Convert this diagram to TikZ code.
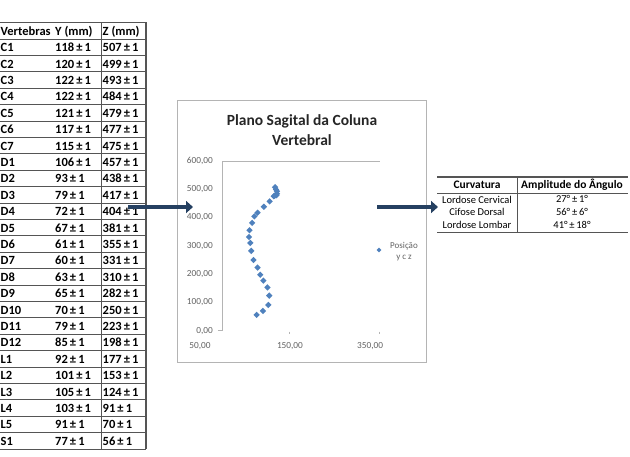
\documentclass[tikz,border=0pt]{standalone}
\usepackage{fontspec}
\setmainfont{Carlito}
\usetikzlibrary{arrows.meta}
\usetikzlibrary{positioning}
\usetikzlibrary{shapes.geometric}

\definecolor{framegray}{RGB}{180,180,180}
\definecolor{ticktext}{RGB}{100,100,100}
\definecolor{seriesblue}{RGB}{79,129,189}
\definecolor{arrowblue}{RGB}{37,64,97}
\definecolor{rulegray}{RGB}{85,85,85}

\tikzset{
  cell/.style={anchor=west, inner sep=0pt, text height=9pt, text depth=2pt,
    font=\fontsize{12.5}{13}\selectfont\bfseries},
  rule/.style={draw=rulegray, line width=1pt},
  chartbox/.style={draw=framegray, line width=0.9pt, fill=white, inner sep=0pt},
  ticklab/.style={inner sep=0pt, text=ticktext, font=\fontsize{9.3}{10}\selectfont},
  marker/.style={diamond, fill=seriesblue, minimum size=6.5pt, inner sep=0pt},
  charttitle/.style={align=center, text=black!85, font=\fontsize{15.5}{20}\selectfont\bfseries},
  legtext/.style={inner sep=0pt, text=ticktext, text height=6.5pt, text depth=1.5pt,
    font=\fontsize{9}{10}\selectfont},
  blockarrow/.style={draw=arrowblue, line width=4.5pt, -{Triangle[length=7pt,width=12pt]}},
  curvhead/.style={inner sep=0pt, font=\fontsize{11.5}{12}\selectfont\bfseries},
  curvcell/.style={inner sep=0pt, font=\fontsize{10.5}{11}\selectfont}
}

% Vertebra / Y / Z
\def\vertdata{C1/118/507, C2/120/499, C3/122/493, C4/122/484, C5/121/479,
  C6/117/477, C7/115/475, D1/106/457, D2/93/438, D3/79/417, D4/72/404,
  D5/67/381, D6/61/355, D7/60/331, D8/63/310, D9/65/282, D10/70/250,
  D11/79/223, D12/85/198, L1/92/177, L2/101/153, L3/105/124, L4/103/91,
  L5/91/70, S1/77/56}

\begin{document}
\begin{tikzpicture}[x=1pt, y=-1pt]
\useasboundingbox (0,0) rectangle (630,456);
% Define the row height of the table
\def\rowh{16.4}

% Left table: header
\draw[rule] (0,22) -- (146,22);
\draw[rule] (0,39) -- (146,39);
\node[cell] (hvert) at (0.5,31.5) {Vertebras};
\node[cell] (hy) at (55,31.5) {Y (mm)};
\node[cell] (hz) at (102.5,31.5) {Z (mm)};

% Left table: one row per vertebra
\foreach \lab/\yy/\zz [count=\i] in \vertdata {
    \pgfmathsetmacro\rowy{39+\rowh*(\i-0.5)+1}
    \pgfmathsetmacro\liney{39+\rowh*\i}
    \node[cell] (lab\i) at (0.5,\rowy) {\lab};
    \node[cell] (yv\i) at (55,\rowy) {\yy\,±\,1};
    \node[cell] (zv\i) at (102.5,\rowy) {\zz\,±\,1};
    \draw[rule] (0,\liney) -- (146,\liney);
}
\draw[rule] (101.5,22) -- (101.5,449);
\draw[rule, line width=1.6pt] (146,22) -- (146,449);

% Chart frame and title
\node[chartbox, minimum width=249pt, minimum height=262pt] (chart) at (301.5,231) {};
\node[charttitle] (title) at (302,130) {Plano Sagital da Coluna\\Vertebral};

% Plot area
\begin{scope}[shift={(222,330.7)}, xscale=0.45, yscale=-0.283]
    \draw[framegray, line width=0.8pt] (0,0) -- (0,600) -- (350,600);
    \draw[framegray, line width=0.8pt] (-9,0) -- (0,0);
    \foreach \v in {0,100,...,600}
        \node[ticklab, anchor=east] (ty\v) at (-20,\v) {\v,00};
    \foreach \v in {150,350}
        \draw[framegray, line width=0.8pt] (\v,-3) -- (\v,-13);
    \node[ticklab] (tx50) at (-49,-54) {50,00};
    \node[ticklab] (tx150) at (151,-54) {150,00};
    \node[ticklab] (tx350) at (329,-54) {350,00};
    \foreach \lab/\yy/\zz [count=\i] in \vertdata
        \node[marker] (p\i) at (\yy,\zz) {};
\end{scope}

% Legend
\node[marker, minimum size=5pt] (legmark) at (379,250) {};
\node[legtext] (leg1) at (404,246) {Posição};
\node[legtext, below=3pt of leg1] (leg2) {y c z};

% Right table
\draw[rule, line width=1.5pt] (437,177) -- (628,177);
\draw[rule] (437,193) -- (628,193);
\draw[rule] (437,232) -- (628,232);
\draw[rule, line width=0.8pt] (517,177) -- (517,232);
\node[curvhead] (hcurv) at (477,185) {Curvatura};
\node[curvhead] (hampl) at (572,185) {Amplitude do Ângulo};
\foreach \name/\ang [count=\j] in {Lordose Cervical/27°\,±\,1°,
    Cifose Dorsal/56°\,±\,6°, Lordose Lombar/41°\,±\,18°} {
    \pgfmathsetmacro\ry{193+12.8*(\j-0.5)}
    \node[curvcell] (cn\j) at (477,\ry) {\name};
    \node[curvcell] (ca\j) at (572,\ry) {\ang};
}

% Arrows between the three parts
\coordinate (fromtab) at (128,207);
\coordinate (intochart) at (193,207);
\coordinate (fromchart) at (377,207);
\coordinate (intocurv) at (438,207);
\draw[blockarrow] (fromtab) -- (intochart);
\draw[blockarrow] (fromchart) -- (intocurv);
\end{tikzpicture}
\end{document}
